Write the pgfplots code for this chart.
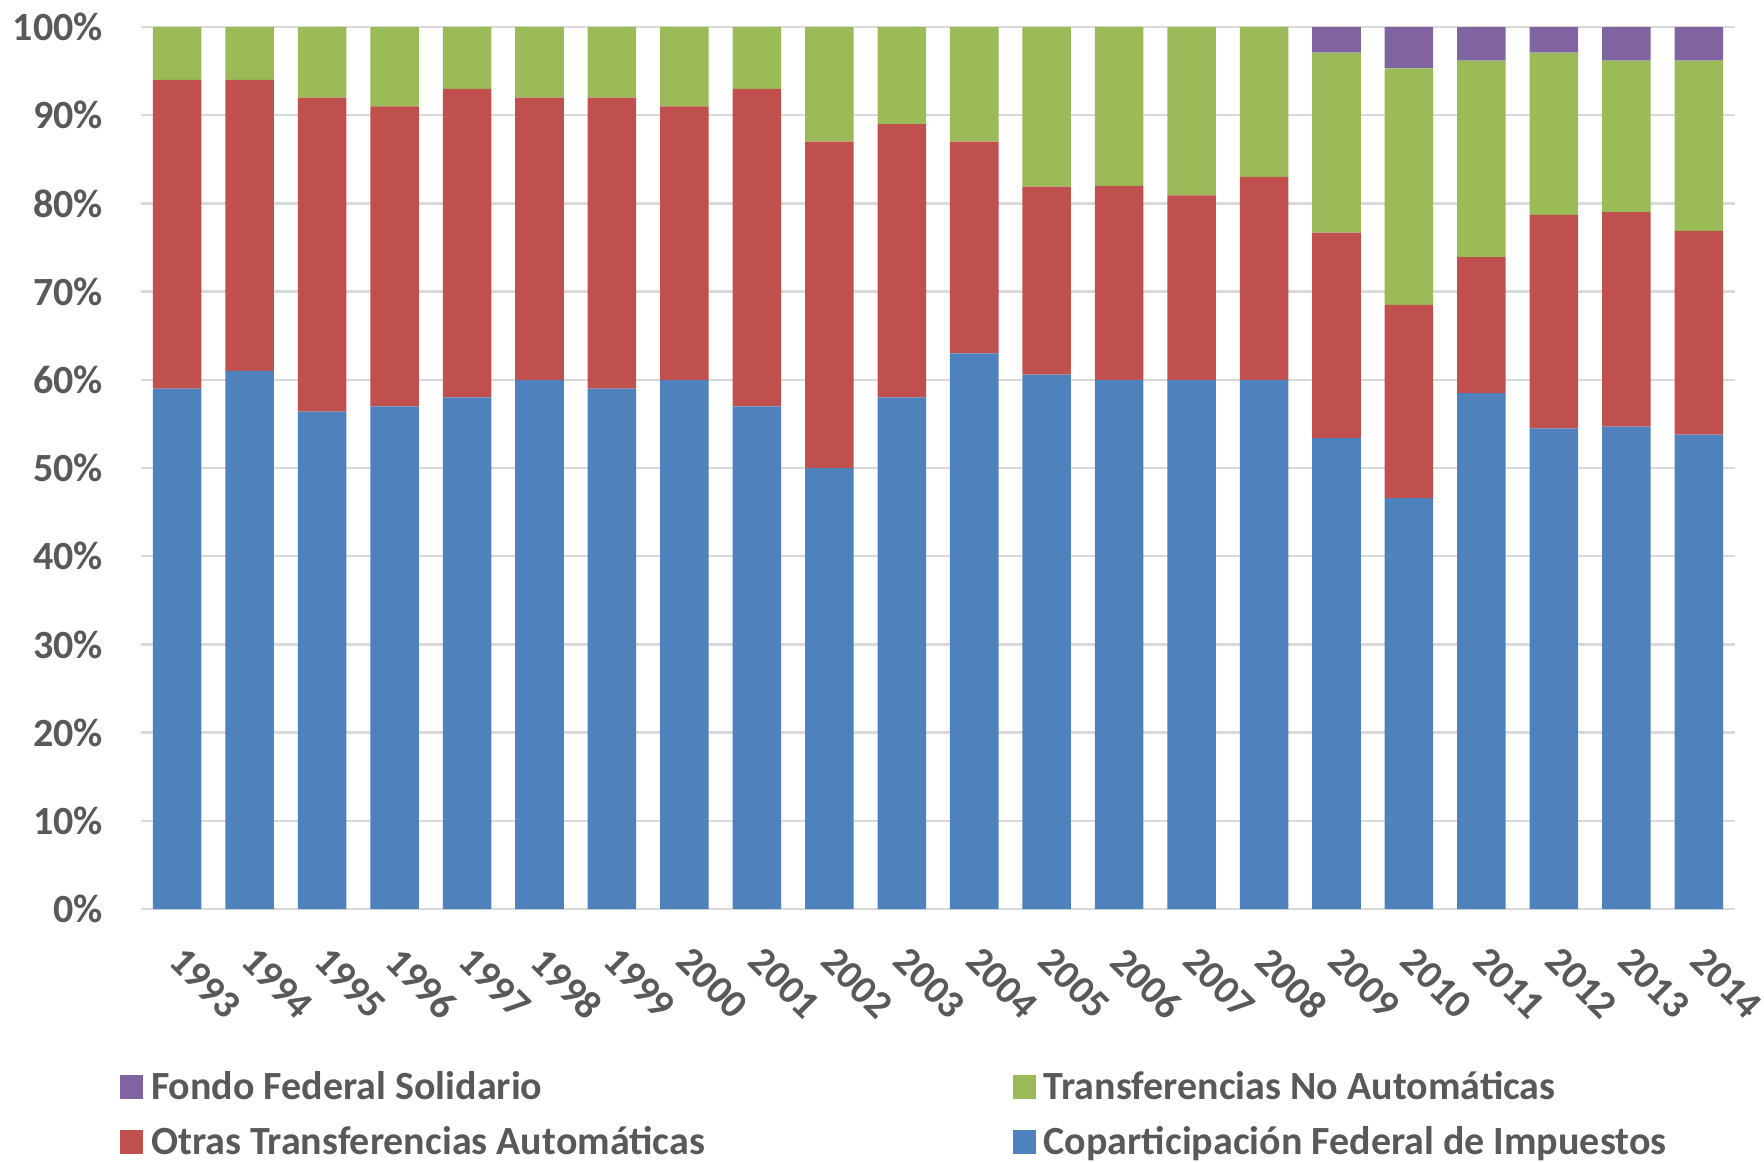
\documentclass[border=0pt]{standalone}
\usepackage{pgfplots}
\pgfplotsset{compat=1.18}
\usepackage{fontspec}
\setmainfont{Carlito}
\definecolor{cblue}{HTML}{4F81BD}
\definecolor{cred}{HTML}{C0504D}
\definecolor{cgreen}{HTML}{9BBB59}
\definecolor{cpurple}{HTML}{8064A2}
\definecolor{ctext}{HTML}{595959}
\definecolor{cgrid}{HTML}{D9D9D9}
\begin{document}
\begin{tikzpicture}
\begin{axis}[
  at={(0,0)}, anchor=south west,
  scale only axis, width=398.5pt, height=220.5pt,
  ybar stacked, bar width=0.67,
  xmin=-0.5, xmax=21.5, ymin=0, ymax=100,
  xtick={0,...,21},
  xticklabels={1993,1994,1995,1996,1997,1998,1999,2000,2001,2002,2003,2004,2005,2006,2007,2008,2009,2010,2011,2012,2013,2014},
  ytick={0,10,...,100},
  yticklabels={0\%,10\%,20\%,30\%,40\%,50\%,60\%,70\%,80\%,90\%,100\%},
  axis line style={draw=none},
  major tick length=0pt,
  ymajorgrids, grid style={cgrid, line width=0.6pt},
  axis on top=false,
  ticklabel style={font=\fontsize{10}{12}\selectfont\bfseries, text=ctext},
  xticklabel style={rotate=-45, anchor=north west, xshift=4.3pt, yshift=-1.3pt},
  yticklabel style={xshift=-6pt},
  legend columns=2,
  reverse legend,
  legend cell align=left,
  legend style={draw=none, fill=none, at={(-0.021,-0.165)}, anchor=north west,
    font=\fontsize{10}{12}\selectfont\bfseries, text=ctext,
    /tikz/every even column/.append style={column sep=75pt},
    row sep=1.2pt},
  legend image code/.code={\fill[#1] (0cm,-0.09cm) rectangle (0.2cm,0.12cm);},
]
\addplot[fill=cblue, draw=none] coordinates {
(0,59) (1,61) (2,56.4) (3,57) (4,58) (5,60) (6,59) (7,60) (8,57) (9,50) (10,58)
(11,63) (12,60.6) (13,60) (14,60) (15,60) (16,53.4) (17,46.6) (18,58.5) (19,54.5) (20,54.7) (21,53.8)};
\addlegendentry{Coparticipación Federal de Impuestos}
\addplot[fill=cred, draw=none] coordinates {
(0,35) (1,33) (2,35.6) (3,34) (4,35) (5,32) (6,33) (7,31) (8,36) (9,37) (10,31)
(11,24) (12,21.3) (13,22) (14,20.9) (15,23) (16,23.3) (17,21.9) (18,15.4) (19,24.2) (20,24.3) (21,23.1)};
\addlegendentry{Otras Transferencias Automáticas}
\addplot[fill=cgreen, draw=none] coordinates {
(0,6) (1,6) (2,8) (3,9) (4,7) (5,8) (6,8) (7,9) (8,7) (9,13) (10,11)
(11,13) (12,18.1) (13,18) (14,19.1) (15,17) (16,20.4) (17,26.8) (18,22.3) (19,18.4) (20,17.2) (21,19.3)};
\addlegendentry{Transferencias No Automáticas}
\addplot[fill=cpurple, draw=none] coordinates {
(0,0) (1,0) (2,0) (3,0) (4,0) (5,0) (6,0) (7,0) (8,0) (9,0) (10,0)
(11,0) (12,0) (13,0) (14,0) (15,0) (16,2.9) (17,4.7) (18,3.8) (19,2.9) (20,3.8) (21,3.8)};
\addlegendentry{Fondo Federal Solidario}
\end{axis}
\pgfresetboundingbox
\useasboundingbox (-35.25pt,-63pt) rectangle (405.75pt,227.25pt);
\end{tikzpicture}
\end{document}
